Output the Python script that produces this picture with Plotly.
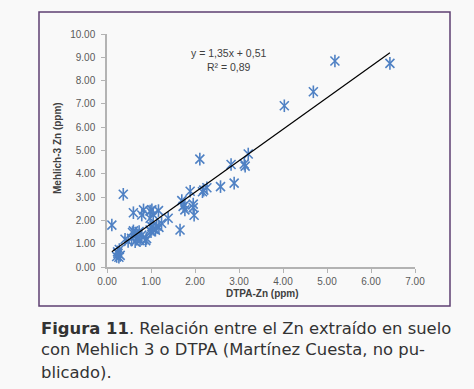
import plotly.graph_objects as go

# ---- data ----
dtpa_zn = [0.11, 0.37,
           0.22, 0.25, 0.28, 0.30, 0.27, 0.24,
           0.41, 0.48, 0.56, 0.60, 0.65, 0.66, 0.73, 0.79, 0.68, 0.75, 0.64, 0.90, 0.88, 0.58, 0.70,
           0.60, 0.79, 0.83, 0.98, 1.02, 1.17, 1.05, 0.98, 1.39, 1.24,
           1.13, 1.05, 0.98, 1.02, 1.10, 1.18, 1.00,
           1.66,
           1.70, 1.77, 1.96, 1.96, 1.77, 1.98, 1.89, 1.73,
           2.11, 2.17, 2.20, 2.27, 2.58, 2.89, 2.82, 3.12, 3.14, 3.21,
           4.03, 4.69, 5.18, 6.43]
mehlich_zn = [1.80, 3.12,
              0.45, 0.58, 0.75, 0.50, 0.42, 0.65,
              1.19, 1.10, 1.23, 1.55, 1.45, 1.37, 1.52, 1.37, 1.19, 1.13, 1.09, 1.22, 1.13, 1.48, 1.28,
              2.33, 2.23, 2.45, 2.40, 2.45, 2.42, 2.25, 2.09, 2.09, 1.88,
              1.76, 1.62, 1.59, 1.73, 1.58, 1.70, 1.52,
              1.59,
              2.85, 2.66, 2.70, 2.55, 2.45, 2.22, 3.25, 2.60,
              4.63, 3.23, 3.30, 3.40, 3.45, 3.60, 4.40, 4.42, 4.33, 4.85,
              6.92, 7.52, 8.84, 8.74]
trend_slope = 1.35
trend_intercept = 0.51
equation_text = "y = 1,35x + 0,51<br>R² = 0,89"
x_title = "DTPA-Zn (ppm)"
y_title = "Mehlich-3 Zn (ppm)"
caption_lines = ["<b>Figura 11</b>. Relación entre el Zn extraído en suelo",
                 "con Mehlich 3 o DTPA (Martínez Cuesta, no pu-",
                 "blicado)."]

# ---- layout geometry (pixels) ----
W, H = 474, 389
PL, PR, PT, PB = 107, 415, 34, 267
def px_x(px):
    return (px - PL) / (PR - PL)
def px_y(py):
    return (PB - py) / (PB - PT)

blue = "#4f81c4"
fig = go.Figure()
for sym in ["x-thin-open", "line-ns-open"]:
    fig.add_trace(go.Scatter(x=dtpa_zn, y=mehlich_zn, mode="markers",
                             marker=dict(symbol=sym, size=9, color=blue,
                                         line=dict(color=blue, width=1.6)),
                             showlegend=False, hoverinfo="x+y"))

xmin, xmax = min(dtpa_zn), max(dtpa_zn)
fig.add_trace(go.Scatter(x=[xmin, xmax],
                         y=[trend_slope * xmin + trend_intercept, trend_slope * xmax + trend_intercept],
                         mode="lines", line=dict(color="black", width=1.2),
                         showlegend=False, hoverinfo="skip"))

axis_common = dict(showgrid=False, zeroline=False, showline=True, linecolor="#b3b3b3",
                   linewidth=1.5, ticks="outside", ticklen=4, tickcolor="#b3b3b3",
                   tickwidth=1, tickformat=".2f", dtick=1,
                   tickfont=dict(family="Liberation Sans, Arial", size=10, color="#595959"))
fig.update_xaxes(range=[0, 7], **axis_common)
fig.update_yaxes(range=[0, 10], ticklabelstandoff=4, **axis_common)

anns = []
anns.append(dict(x=2.77, y=8.9, xref="x", yref="y", text=equation_text, showarrow=False,
                 align="center", font=dict(family="Liberation Sans, Arial", size=10.5, color="#404040")))
anns.append(dict(x=px_x(262), y=px_y(293), xref="paper", yref="paper", text="<b>%s</b>" % x_title,
                 showarrow=False, xanchor="center", yanchor="middle",
                 font=dict(family="Liberation Sans, Arial", size=10, color="#404040")))
anns.append(dict(x=px_x(57), y=px_y(148), xref="paper", yref="paper", text="<b>%s</b>" % y_title,
                 showarrow=False, textangle=-90, xanchor="center", yanchor="middle",
                 font=dict(family="Liberation Sans, Arial", size=10, color="#404040")))
for i, line in enumerate(caption_lines):
    anns.append(dict(x=px_x(39), y=px_y(328 + 22 * i), xref="paper", yref="paper", text=line,
                     showarrow=False, xanchor="left", yanchor="middle",
                     font=dict(family="DejaVu Sans", size=16.4, color="#333333")))

shapes = [dict(type="rect", xref="paper", yref="paper",
               x0=px_x(39), x1=px_x(450), y0=px_y(306), y1=px_y(12),
               line=dict(color="#5e3f72", width=1.5), fillcolor="rgba(0,0,0,0)", layer="below")]

fig.update_layout(width=W, height=H, margin=dict(l=PL, r=W - PR, t=PT, b=H - PB),
                  paper_bgcolor="#f9f9f9", plot_bgcolor="#f9f9f9",
                  annotations=anns, shapes=shapes, showlegend=False)
fig.write_html("out.html", config={"displayModeBar": False},
               post_script="document.body.style.margin='0';document.body.style.background='#f9f9f9';")
